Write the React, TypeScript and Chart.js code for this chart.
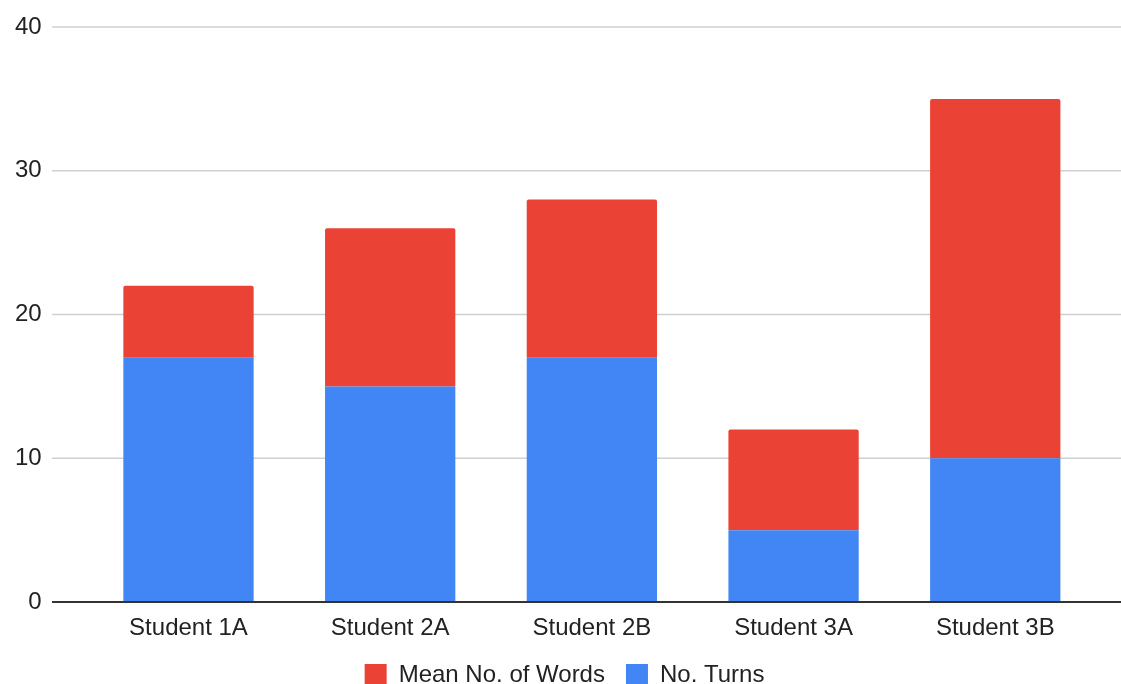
import React, { useEffect, useRef } from "react";
import { Chart, registerables } from "chart.js";

Chart.register(...registerables);

const categories = ["Student 1A", "Student 2A", "Student 2B", "Student 3A", "Student 3B"];
const turns = [17, 15, 17, 5, 10];
const meanWords = [5, 11, 11, 7, 25];
const yTicks = [0, 10, 20, 30, 40];

const FONT = "'Liberation Sans', Arial, sans-serif";

const gridPlugin = {
  id: "fullGrid",
  afterLayout(chart: any) {
    if (chart.legend) {
      chart.legend.left += 11.5;
      chart.legend.right += 11.5;
    }
  },
  beforeDatasetsDraw(chart: any) {
    const { ctx } = chart;
    const y = chart.scales.y;
    ctx.save();
    ctx.strokeStyle = "#d0d0d0";
    ctx.lineWidth = 1.5;
    yTicks.forEach((v) => {
      if (v === 0) return;
      const py = y.getPixelForValue(v);
      ctx.beginPath();
      ctx.moveTo(52, py);
      ctx.lineTo(chart.width, py);
      ctx.stroke();
    });
    ctx.restore();
  },
  afterDatasetsDraw(chart: any) {
    const { ctx } = chart;
    const y = chart.scales.y;
    const py = y.getPixelForValue(0);
    ctx.save();
    ctx.strokeStyle = "#333333";
    ctx.lineWidth = 2;
    ctx.beginPath();
    ctx.moveTo(52, py);
    ctx.lineTo(chart.width, py);
    ctx.stroke();
    ctx.restore();
  },
};

export default function App() {
  const ref = useRef<HTMLCanvasElement | null>(null);
  useEffect(() => {
    if (!ref.current) return;
    const chart = new Chart(ref.current, {
      type: "bar",
      data: {
        labels: categories,
        datasets: [
          {
            label: "No. Turns",
            data: turns,
            backgroundColor: "#4285F4",
            borderWidth: 0,
          },
          {
            label: "Mean No. of Words",
            data: meanWords,
            backgroundColor: "#EA4335",
            borderWidth: 0,
            borderRadius: { topLeft: 2, topRight: 2, bottomLeft: 0, bottomRight: 0 },
            borderSkipped: false,
          },
        ],
      },
      options: {
        animation: false,
        responsive: true,
        maintainAspectRatio: false,
        layout: { padding: { left: 10, right: 24.9, top: 27, bottom: 0 } },
        datasets: { bar: { categoryPercentage: 1, barPercentage: 0.646 } },
        plugins: {
          tooltip: { enabled: false },
          legend: {
            position: "bottom",
            labels: {
              boxWidth: 22,
              boxHeight: 22,
              padding: 21,
              color: "#222",
              font: { family: FONT, size: 24 },
              sort: (a: any, b: any) => b.datasetIndex - a.datasetIndex,
            },
          },
        },
        scales: {
          x: {
            stacked: true,
            grid: { display: false, drawTicks: false },
            border: { display: false },
            ticks: { color: "#222", font: { family: FONT, size: 24 }, padding: 12, maxRotation: 0 },
            afterFit: (s: any) => {
              s.height = 40;
            },
          },
          y: {
            stacked: true,
            min: 0,
            max: 40,
            grid: { display: false, drawTicks: true, tickLength: 42 },
            border: { display: false },
            afterBuildTicks: (s: any) => {
              s.ticks = yTicks.map((v) => ({ value: v }));
            },
            ticks: { color: "#222", font: { family: FONT, size: 24 }, padding: 4 },
            afterFit: (s: any) => {
              s.width = 77.65;
            },
          },
        },
      },
      plugins: [gridPlugin],
    });
    return () => chart.destroy();
  }, []);
  return (
    <div style={{ position: "fixed", left: 0, top: 0, width: 1121, height: 684, overflow: "hidden", background: "#fff" }}>
      <div style={{ position: "relative", width: 1121, height: 697 }}>
        <canvas ref={ref} />
      </div>
    </div>
  );
}
